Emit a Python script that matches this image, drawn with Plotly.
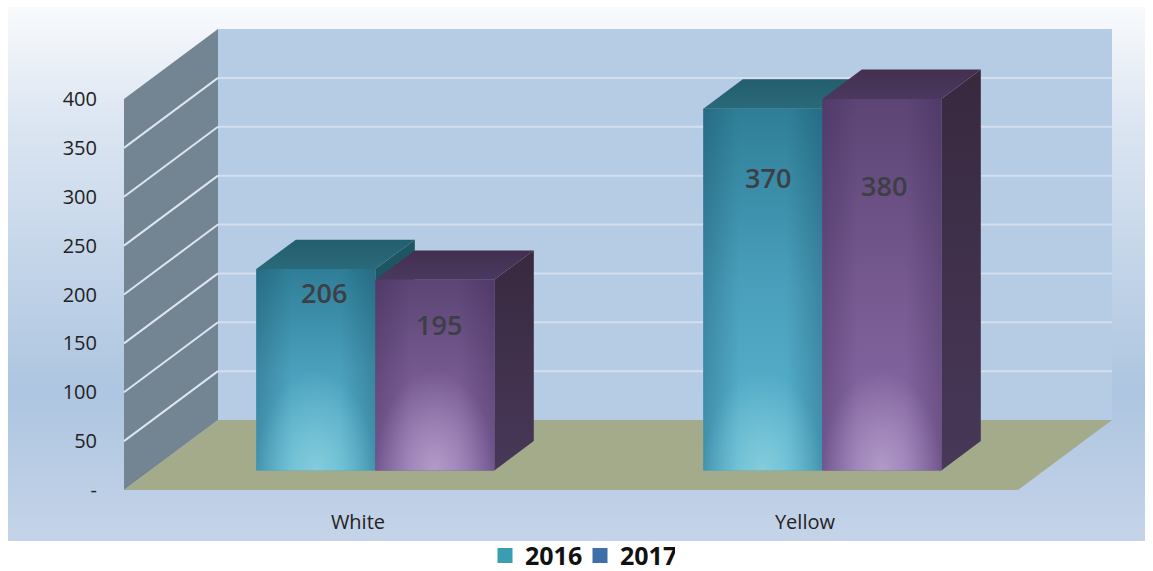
import base64
import struct
import zlib
import plotly.graph_objects as go

# ---- data ----
CATEGORIES = ["White", "Yellow"]
YEARS = ["2016", "2017"]
VALUES_2016 = [206, 370]
VALUES_2017 = [195, 380]
Y_TICKS = [0, 50, 100, 150, 200, 250, 300, 350, 400]
Y_TICK_LABELS = ["-", "50", "100", "150", "200", "250", "300", "350", "400"]

# ---- layout / style ----
W, H = 1153, 571
X0_PX, X_UNIT = 349.0, 447.0      # pixel of category 0, pixels per category
Y0_PX, Y_UNIT = 490.0, 0.9775     # pixel of value 0, pixels per value
DEPTH_X = 94.0 / X_UNIT
DEPTH_Y = 70.0 / Y_UNIT
BAR_W = 119.0 / X_UNIT
BAR_D0, BAR_D1 = 0.28, 0.70
LEFT, RIGHT = (124 - X0_PX) / X_UNIT, (1018 - X0_PX) / X_UNIT
TOP_VAL = 400
LABEL_SHIFT = {"2016": [8, 5], "2017": [4, 2]}
LABEL_DROP = {"2016": [23, 69], "2017": [45, 87]}
STYLE = {
    "2016": dict(base="#4A9DB6", front=["#2F7E97", "#4AA0BC", "#58B4D0"], glow="150,215,225",
                 side=["#1C5563", "#1F5B68"], top=["#235E6E", "#2A6A78"], edge="15,60,85", legend="#3A9DB0"),
    "2017": dict(base="#74588F", front=["#5C4575", "#75598F", "#8A6BA8"], glow="195,175,215",
                 side=["#38293F", "#483859"], top=["#43304F", "#4A3860"], edge="50,30,75", legend="#3F6FA8"),
}


def gradient_png():
    stops = [(0.0, (249, 251, 253)), (0.2, (222, 231, 243)), (0.72, (174, 198, 225)), (1.0, (197, 212, 233))]
    n = 256
    raw = b""
    for i in range(n):
        t = i / (n - 1)
        for (a, ca), (b, cb) in zip(stops, stops[1:]):
            if a <= t <= b:
                f = (t - a) / (b - a)
                raw += b"\x00" + bytes(int(ca[k] + (cb[k] - ca[k]) * f) for k in range(3))
                break

    def chunk(tag, data):
        return struct.pack(">I", len(data)) + tag + data + struct.pack(">I", zlib.crc32(tag + data) & 0xffffffff)

    png = b"\x89PNG\r\n\x1a\n" + chunk(b"IHDR", struct.pack(">IIBBBBB", 1, n, 8, 2, 0, 0, 0)) + \
        chunk(b"IDAT", zlib.compress(raw)) + chunk(b"IEND", b"")
    return "data:image/png;base64," + base64.b64encode(png).decode()


def P(x, v, d=0.0):
    """Project category coord, value and depth onto the 2D axes."""
    return x + d * DEPTH_X, v + d * DEPTH_Y


def path(points):
    return "M " + " L ".join(f"{x},{y}" for x, y in points) + " Z"


shapes = [
    # back wall
    dict(type="path", path=path([P(LEFT, 0, 1), P(RIGHT, 0, 1), P(RIGHT, TOP_VAL, 1), P(LEFT, TOP_VAL, 1)]),
         fillcolor="#B6CBE4", line_width=0, layer="below", xref="x", yref="y"),
    # side wall
    dict(type="path", path=path([P(LEFT, 0, 0), P(LEFT, 0, 1), P(LEFT, TOP_VAL, 1), P(LEFT, TOP_VAL, 0)]),
         fillcolor="#738492", line_width=0, layer="below", xref="x", yref="y"),
    # floor
    dict(type="path", path=path([P(LEFT, 0, 0), P(RIGHT, 0, 0), P(RIGHT, 0, 1), P(LEFT, 0, 1)]),
         fillcolor="#A3AB8B", line_width=0, layer="below", xref="x", yref="y"),
]
for t in Y_TICKS[1:-1]:
    a, b, c = P(LEFT, t, 0), P(LEFT, t, 1), P(RIGHT, t, 1)
    shapes.append(dict(type="line", x0=a[0], y0=a[1], x1=b[0], y1=b[1], xref="x", yref="y", layer="below",
                       line=dict(color="#DDE5EE", width=2)))
    shapes.append(dict(type="line", x0=b[0], y0=b[1], x1=c[0], y1=c[1], xref="x", yref="y", layer="below",
                       line=dict(color="#D3DFEE", width=2)))


def vertical(c):
    n = len(c) - 1
    return [[i / n, col] for i, col in enumerate(c)]


def poly(points, gradient):
    xs = [p[0] for p in points] + [points[0][0]]
    ys = [p[1] for p in points] + [points[0][1]]
    return go.Scatter(x=xs, y=ys, mode="lines", line=dict(width=0), fill="toself", fillgradient=gradient,
                      hoverinfo="skip", showlegend=False)


fig = go.Figure()
SERIES = {"2016": VALUES_2016, "2017": VALUES_2017}

# library bars: the front faces
for si, yr in enumerate(YEARS):
    st = STYLE[yr]
    xs = [i + (si - 0.5) * BAR_W + BAR_D0 * DEPTH_X for i in range(len(CATEGORIES))]
    fig.add_trace(go.Bar(x=xs, y=SERIES[yr], base=BAR_D0 * DEPTH_Y, width=BAR_W, marker=dict(color=st["base"], line_width=0),
                         name=yr, showlegend=False, hoverinfo="skip"))

annotations = []
for i in range(len(CATEGORIES)):
    for si, yr in enumerate(YEARS):
        st = STYLE[yr]
        v = SERIES[yr][i]
        x1 = i + (si - 1) * BAR_W
        x2 = i + si * BAR_W
        fl, fb = P(x1, 0, BAR_D0)
        fr, _ = P(x2, 0, BAR_D0)
        ft = fb + v
        bl, bb = P(x1, 0, BAR_D1)
        br, _ = P(x2, 0, BAR_D1)
        bt = bb + v
        # side and top faces
        fig.add_trace(poly([(fr, fb), (br, bb), (br, bt), (fr, ft)],
                           dict(type="vertical", colorscale=[[0, st["side"][1]], [1, st["side"][0]]])))
        fig.add_trace(poly([(fl, ft), (fr, ft), (br, bt), (bl, bt)],
                           dict(type="vertical", colorscale=[[0, st["top"][1]], [1, st["top"][0]]])))
        # front gradient
        fig.add_trace(poly([(fl, fb), (fr, fb), (fr, ft), (fl, ft)],
                           dict(type="vertical", colorscale=vertical(st["front"][::-1]))))
        # darkened edges
        fig.add_trace(poly([(fl, fb), (fr, fb), (fr, ft), (fl, ft)],
                           dict(type="horizontal", colorscale=[[0, f"rgba({st['edge']},0.28)"],
                                                              [0.3, f"rgba({st['edge']},0)"],
                                                              [0.7, f"rgba({st['edge']},0)"],
                                                              [1, f"rgba({st['edge']},0.28)"]])))
        # glow at the foot: a zero-width spike centres the radial gradient on the bar's foot
        gh = 100 / Y_UNIT
        fc = (fl + fr) / 2
        fig.add_trace(poly([(fl, fb), (fc, fb), (fc, fb - gh), (fc, fb), (fr, fb), (fr, fb + gh), (fl, fb + gh)],
                           dict(type="radial", colorscale=[[0, f"rgba({st['glow']},0.7)"],
                                                          [1, f"rgba({st['glow']},0)"]])))
        annotations.append(dict(x=(fl + fr) / 2, y=ft, xref="x", yref="y", text=str(v), showarrow=False,
                                xanchor="center", yanchor="middle",
                                xshift=LABEL_SHIFT[yr][i], yshift=-LABEL_DROP[yr][i],
                                font=dict(family="Open Sans", size=27, weight=600, color="#3E3E46")))

for yr in YEARS:
    fig.add_trace(go.Scatter(x=[None], y=[None], mode="markers", name=yr, showlegend=True, hoverinfo="skip",
                             marker=dict(symbol="square", size=15, color=STYLE[yr]["legend"])))

fig.update_layout(
    width=W, height=H,
    margin=dict(l=0, r=0, t=0, b=0),
    paper_bgcolor="white", plot_bgcolor="rgba(0,0,0,0)",
    barmode="overlay",
    shapes=shapes,
    annotations=annotations,
    images=[dict(source=gradient_png(), xref="paper", yref="paper", x=8 / W, y=1 - 7 / H,
                 sizex=1137 / W, sizey=534 / H, sizing="stretch", xanchor="left", yanchor="top", layer="below")],
    xaxis=dict(range=[(0 - X0_PX) / X_UNIT, (W - X0_PX) / X_UNIT], tickmode="array", tickvals=[0.02, 1.02],
               ticktext=CATEGORIES, showgrid=False, zeroline=False, showline=False, ticks="",
               anchor="free", position=1 - 508 / H, tickfont=dict(family="Open Sans", size=20, color="#222222")),
    yaxis=dict(range=[(Y0_PX - H) / Y_UNIT, Y0_PX / Y_UNIT], tickmode="array", tickvals=Y_TICKS,
               ticktext=Y_TICK_LABELS, showgrid=False, zeroline=False, showline=False, ticks="",
               anchor="free", position=97 / W, tickfont=dict(family="Open Sans", size=20, color="#222222")),
    legend=dict(orientation="h", x=485 / W, xanchor="left", y=0.002, yanchor="bottom",
                entrywidth=50, entrywidthmode="pixels",
                bgcolor="rgba(0,0,0,0)", font=dict(family="Open Sans", size=25, weight=700, color="#111111")),
)

LEGEND_NUDGE = """
var lg = document.querySelector('.legend');
if (lg) {
  var tr = lg.getAttribute('transform');
  var m = /translate\\(([-\\d.]+)[ ,]+([-\\d.]+)\\)/.exec(tr);
  if (m) lg.setAttribute('transform', 'translate(' + m[1] + ',' + (parseFloat(m[2]) + 9) + ')');
}
"""
fig.write_html("out.html", config={"displayModeBar": False},
               post_script="document.body.style.margin='0';document.body.style.overflow='hidden';" + LEGEND_NUDGE)
